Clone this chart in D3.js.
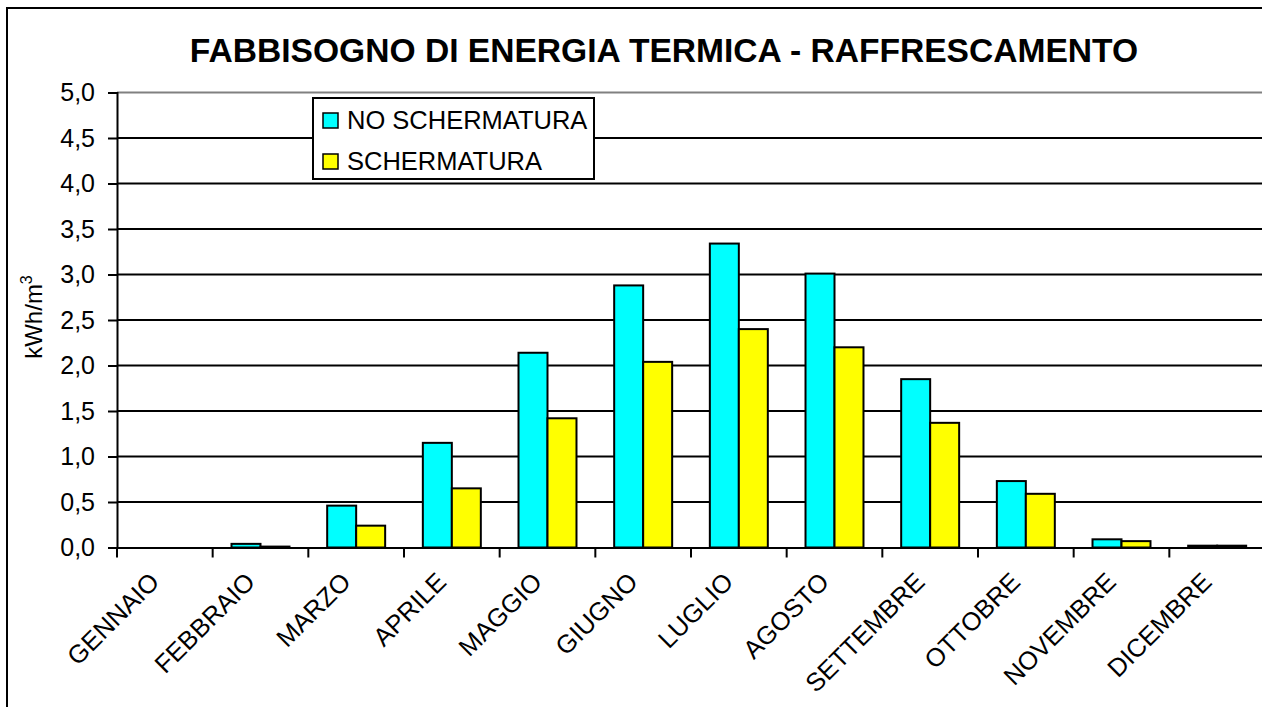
<!DOCTYPE html>
<html>
<head>
<meta charset="utf-8">
<script src="https://cdn.jsdelivr.net/npm/d3@7"></script>
<style>
  body { margin: 0; background: #fff; }
  svg { display: block; font-family: Arial, "Liberation Sans", sans-serif; }
</style>
</head>
<body>
<svg id="chart" width="1262" height="707"></svg>
<script>
// data
const months = ["GENNAIO", "FEBBRAIO", "MARZO", "APRILE", "MAGGIO", "GIUGNO",
                "LUGLIO", "AGOSTO", "SETTEMBRE", "OTTOBRE", "NOVEMBRE", "DICEMBRE"];
const seriesNames = ["NO SCHERMATURA", "SCHERMATURA"];
const noSchermatura = [0, 0.04, 0.46, 1.15, 2.14, 2.88, 3.34, 3.01, 1.85, 0.73, 0.09, 0.02];
const schermatura   = [0, 0.01, 0.24, 0.65, 1.42, 2.04, 2.40, 2.20, 1.37, 0.59, 0.07, 0.02];
const yTicks = [0, 0.5, 1, 1.5, 2, 2.5, 3, 3.5, 4, 4.5, 5];
const colors = ["#00ffff", "#ffff00"];

const data = months.map((m, i) => ({ month: m, values: [noSchermatura[i], schermatura[i]] }));

const svg = d3.select("#chart");
const margin = { left: 117, top: 92.5 };
const W = 1148, H = 455;

// outer frame (runs off the right and bottom edge like the original)
svg.append("rect")
   .attr("x", 7).attr("y", 8)
   .attr("width", 1300).attr("height", 760)
   .attr("fill", "none").attr("stroke", "#000").attr("stroke-width", 2);

// title
svg.append("text")
   .attr("x", 664).attr("y", 62)
   .attr("text-anchor", "middle")
   .attr("font-size", 33.6).attr("font-weight", "bold")
   .text("FABBISOGNO DI ENERGIA TERMICA - RAFFRESCAMENTO");

const g = svg.append("g").attr("transform", `translate(${margin.left},${margin.top})`);

const x0 = d3.scaleBand().domain(months).range([0, W]).padding(0);
const x1 = d3.scaleBand().domain([0, 1]).range([0, x0.bandwidth()]).paddingInner(0).paddingOuter(0.65);
const y = d3.scaleLinear().domain([0, 5]).range([H, 0]);

const fmt = d => d3.format(".1f")(d).replace(".", ",");

// gridlines
g.selectAll("line.grid")
 .data(yTicks.filter(d => d > 0))
 .join("line")
   .attr("class", "grid")
   .attr("x1", 0).attr("x2", W)
   .attr("y1", d => y(d)).attr("y2", d => y(d))
   .attr("stroke", d => d === 5 ? "#808080" : "#000")
   .attr("stroke-width", 2);

// y axis
const yAxis = g.append("g")
  .call(d3.axisLeft(y).tickValues(yTicks).tickSize(9).tickPadding(13).tickFormat(fmt));
yAxis.select(".domain").attr("stroke-width", 2);
yAxis.selectAll(".tick line").attr("stroke-width", 2);
yAxis.selectAll("text").attr("font-size", 25).attr("font-family", "Arial, 'Liberation Sans', sans-serif");

// bars
const groups = g.selectAll("g.month")
  .data(data)
  .join("g")
    .attr("class", "month")
    .attr("transform", d => `translate(${x0(d.month)},0)`);

groups.selectAll("rect")
  .data(d => d.values.map((v, i) => ({ v, i })))
  .join("rect")
    .attr("x", d => x1(d.i))
    .attr("width", x1.bandwidth())
    .attr("y", d => y(d.v))
    .attr("height", d => y(0) - y(d.v))
    .attr("fill", d => colors[d.i])
    .attr("stroke", "#000")
    .attr("stroke-width", 2);

// x axis
const xAxis = g.append("g")
  .attr("transform", `translate(0,${H})`)
  .call(d3.axisBottom(x0).tickSize(0).tickFormat(""));
xAxis.select(".domain").attr("stroke-width", 2);
g.append("g")
 .selectAll("line")
 .data(d3.range(months.length + 1))
 .join("line")
   .attr("x1", i => i * x0.step()).attr("x2", i => i * x0.step())
   .attr("y1", H).attr("y2", H + 10)
   .attr("stroke", "#000").attr("stroke-width", 2);

// rotated month labels
g.selectAll("text.month")
 .data(months)
 .join("text")
   .attr("class", "month")
   .attr("text-anchor", "end")
   .attr("font-size", 25.5)
   .attr("transform", d => `translate(${x0(d) + x0.bandwidth() / 2 - 4},${H + 36}) rotate(-45)`)
   .text(d => d);

// y axis title
const yt = svg.append("text")
   .attr("transform", "translate(42,317) rotate(-90)")
   .attr("text-anchor", "middle")
   .attr("font-size", 24);
yt.append("tspan").text("kWh/m");
yt.append("tspan").attr("font-size", 16).attr("dy", -10).text("3");

// legend
const lg = svg.append("g").attr("transform", "translate(313,98)");
lg.append("rect")
  .attr("width", 281).attr("height", 81)
  .attr("fill", "#fff").attr("stroke", "#000").attr("stroke-width", 2);
const items = lg.selectAll("g.item")
  .data(seriesNames)
  .join("g")
    .attr("class", "item")
    .attr("transform", (d, i) => `translate(0,${i * 41})`);
items.append("rect")
  .attr("x", 10).attr("y", 15)
  .attr("width", 15).attr("height", 15)
  .attr("fill", (d, i) => colors[i])
  .attr("stroke", "#000").attr("stroke-width", 1.5);
items.append("text")
  .attr("x", 34).attr("y", 31)
  .attr("font-size", 25.5)
  .text(d => d);
</script>
</body>
</html>
